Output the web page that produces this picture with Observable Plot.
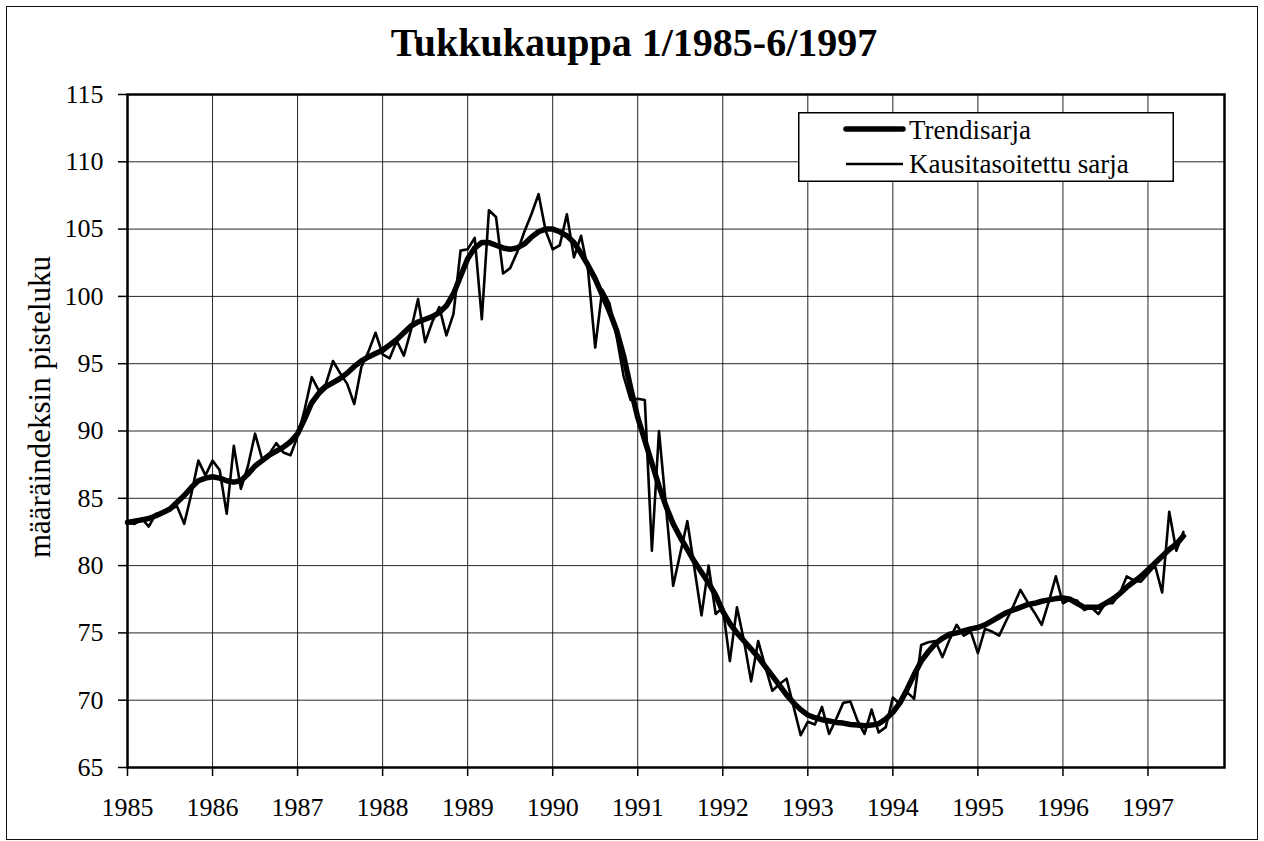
<!DOCTYPE html>
<html>
<head>
<meta charset="utf-8">
<script src="https://cdn.jsdelivr.net/npm/d3@7"></script>
<script src="https://cdn.jsdelivr.net/npm/@observablehq/plot@0.6"></script>
<style>
  body { margin: 0; background: #fff; }
  #wrap { position: relative; width: 1264px; height: 841px; overflow: hidden;
          font-family: 'Liberation Serif', 'Times New Roman', serif; color: #000; }
  #outer { position: absolute; left: 6px; top: 6px; width: 1252px; height: 834px;
           border: 1.5px solid #111; box-sizing: border-box; }
  #title { position: absolute; left: 0; width: 1268px; top: 22px; text-align: center;
           font-size: 40px; font-weight: bold; line-height: 42px; }
  #ylabel { position: absolute; left: 40px; top: 407px; white-space: nowrap;
            font-size: 31px; transform: translate(-50%, -50%) rotate(-90deg); }
  #chart { position: absolute; left: 0; top: 0; }
  #legend { position: absolute; left: 798px; top: 112px; }
</style>
</head>
<body>
<div id="wrap">
  <div id="outer"></div>
  <div id="chart"></div>
  <div id="title">Tukkukauppa 1/1985-6/1997</div>
  <div id="ylabel">määräindeksin pisteluku</div>
  <svg id="legend" width="376" height="70">
    <rect x="0.75" y="0.75" width="374.5" height="68.5" fill="#fff" stroke="#000" stroke-width="1.5"></rect>
    <line x1="48" x2="105" y1="17" y2="17" stroke="#000" stroke-width="5.5" stroke-linecap="round"></line>
    <line x1="48" x2="105" y1="52" y2="52" stroke="#000" stroke-width="2.6"></line>
    <text x="111" y="27" font-size="27" font-family="'Liberation Serif','Times New Roman',serif">Trendisarja</text>
    <text x="111" y="61" font-size="27" font-family="'Liberation Serif','Times New Roman',serif">Kausitasoitettu sarja</text>
  </svg>
</div>
<script>
// Monthly series 1/1985 - 6/1997 (150 months)
const startYear = 1985;
const years = [1985, 1986, 1987, 1988, 1989, 1990, 1991, 1992, 1993, 1994, 1995, 1996, 1997];
const yTicks = [65, 70, 75, 80, 85, 90, 95, 100, 105, 110, 115];

// Kausitasoitettu sarja (seasonally adjusted)
const kausitasoitettu = [
  83.2, 83.1, 83.5, 82.9, 83.85, 83.85, 84.2, 84.4, 83.1, 85.3, 87.8, 86.7,
  87.8, 87.1, 83.85, 88.9, 85.7, 87.4, 89.8, 87.9, 88.3, 89.1, 88.4, 88.2,
  89.6, 91.6, 94.0, 93.0, 93.5, 95.2, 94.3, 93.5, 92.0, 94.75, 95.9, 97.3,
  95.7, 95.4, 96.7, 95.6, 97.5, 99.8, 96.6, 98.1, 99.2, 97.1, 98.7, 103.4,
  103.5, 104.35, 98.3, 106.4, 105.9, 101.7, 102.1, 103.3, 104.8, 106.1, 107.6, 104.9,
  103.5, 103.8, 106.1, 102.9, 104.5, 101.9, 96.2, 100.5, 99.5, 97.1, 94.1, 92.3,
  92.4, 92.3, 81.1, 90.0, 84.3, 78.5, 80.9, 83.3, 79.8, 76.3, 80.0, 76.4,
  76.9, 72.9, 76.9, 74.4, 71.4, 74.4, 72.5, 70.7, 71.2, 71.6, 69.5, 67.4,
  68.4, 68.2, 69.5, 67.5, 68.6, 69.8, 69.9, 68.5, 67.5, 69.3, 67.6, 68.0,
  70.2, 69.7, 70.6, 70.1, 74.1, 74.3, 74.4, 73.2, 74.5, 75.6, 74.8, 75.1,
  73.5, 75.3, 75.1, 74.8, 75.9, 77.0, 78.2, 77.3, 76.5, 75.6, 77.3, 79.2,
  77.2, 77.5, 77.4, 76.7, 76.9, 76.4, 77.2, 77.2, 77.9, 79.2, 78.9, 78.8,
  79.4, 80.0, 78.0, 84.0, 81.1, 82.5
];

// Trendisarja (trend)
const trendi = [
  83.2, 83.3, 83.4, 83.5, 83.7, 83.95, 84.2, 84.7, 85.2, 85.8, 86.3, 86.5,
  86.6, 86.5, 86.3, 86.2, 86.3, 86.8, 87.4, 87.8, 88.2, 88.5, 88.8, 89.2,
  89.8, 90.9, 92.1, 92.8, 93.3, 93.6, 93.9, 94.3, 94.8, 95.2, 95.5, 95.75,
  96.0, 96.4, 96.8, 97.3, 97.8, 98.1, 98.3, 98.5, 98.8, 99.3, 100.2, 101.5,
  102.8, 103.6, 104.0, 104.0, 103.8, 103.6, 103.5, 103.6, 103.9, 104.4, 104.8, 105.0,
  105.0, 104.8, 104.5, 104.0, 103.2, 102.3, 101.3, 100.1, 98.9, 97.5, 95.6, 93.2,
  91.0, 89.3, 87.6, 85.9, 84.4, 83.1, 82.1, 81.2, 80.3, 79.5, 78.7, 77.8,
  76.6, 75.7, 75.0, 74.4, 73.8, 73.2, 72.5, 71.8, 71.1, 70.4, 69.8, 69.3,
  68.9, 68.7, 68.55, 68.45, 68.35, 68.3, 68.2, 68.15, 68.1, 68.15, 68.25, 68.6,
  69.1, 69.8, 70.8, 71.9, 72.9, 73.6, 74.2, 74.6, 74.9, 75.0, 75.15, 75.3,
  75.4, 75.6, 75.9, 76.2, 76.5, 76.7, 76.9, 77.1, 77.2, 77.35, 77.45, 77.55,
  77.6, 77.5, 77.2, 76.9, 76.9, 76.9, 77.2, 77.5, 77.9, 78.4, 78.8, 79.2,
  79.7, 80.2, 80.7, 81.2, 81.6, 82.2
];

const toRows = arr => arr.map((v, i) => ({t: startYear + i / 12, v}));
const seasonalRows = toRows(kausitasoitettu);
const trendRows = toRows(trendi);

const font = "'Liberation Serif', 'Times New Roman', serif";

const chart = Plot.plot({
  width: 1264,
  height: 841,
  marginTop: 94,
  marginBottom: 74,
  marginLeft: 127,
  marginRight: 40,
  style: {fontFamily: font, fontSize: "26px", color: "#000", background: "transparent"},
  x: {domain: [1985, 1997.9]},
  y: {domain: [65, 115]},
  marks: [
    Plot.gridY({ticks: yTicks, stroke: "#000", strokeOpacity: 0.85, strokeWidth: 1}),
    Plot.gridX({ticks: years, stroke: "#000", strokeOpacity: 0.85, strokeWidth: 1}),
    Plot.line(seasonalRows, {x: "t", y: "v", stroke: "#000", strokeWidth: 2.6}),
    Plot.line(trendRows, {x: "t", y: "v", stroke: "#000", strokeWidth: 5.5}),
    Plot.frame({stroke: "#000", strokeWidth: 2.5}),
    Plot.axisY({ticks: yTicks, tickSize: 9, tickPadding: 15, fontSize: 26, label: null, strokeWidth: 1.5}),
    Plot.axisX({ticks: years, tickSize: 9, tickPadding: 21, fontSize: 26, label: null, strokeWidth: 1.5,
                tickFormat: d => String(d)})
  ]
});
document.getElementById("chart").appendChild(chart);
</script>
</body>
</html>
